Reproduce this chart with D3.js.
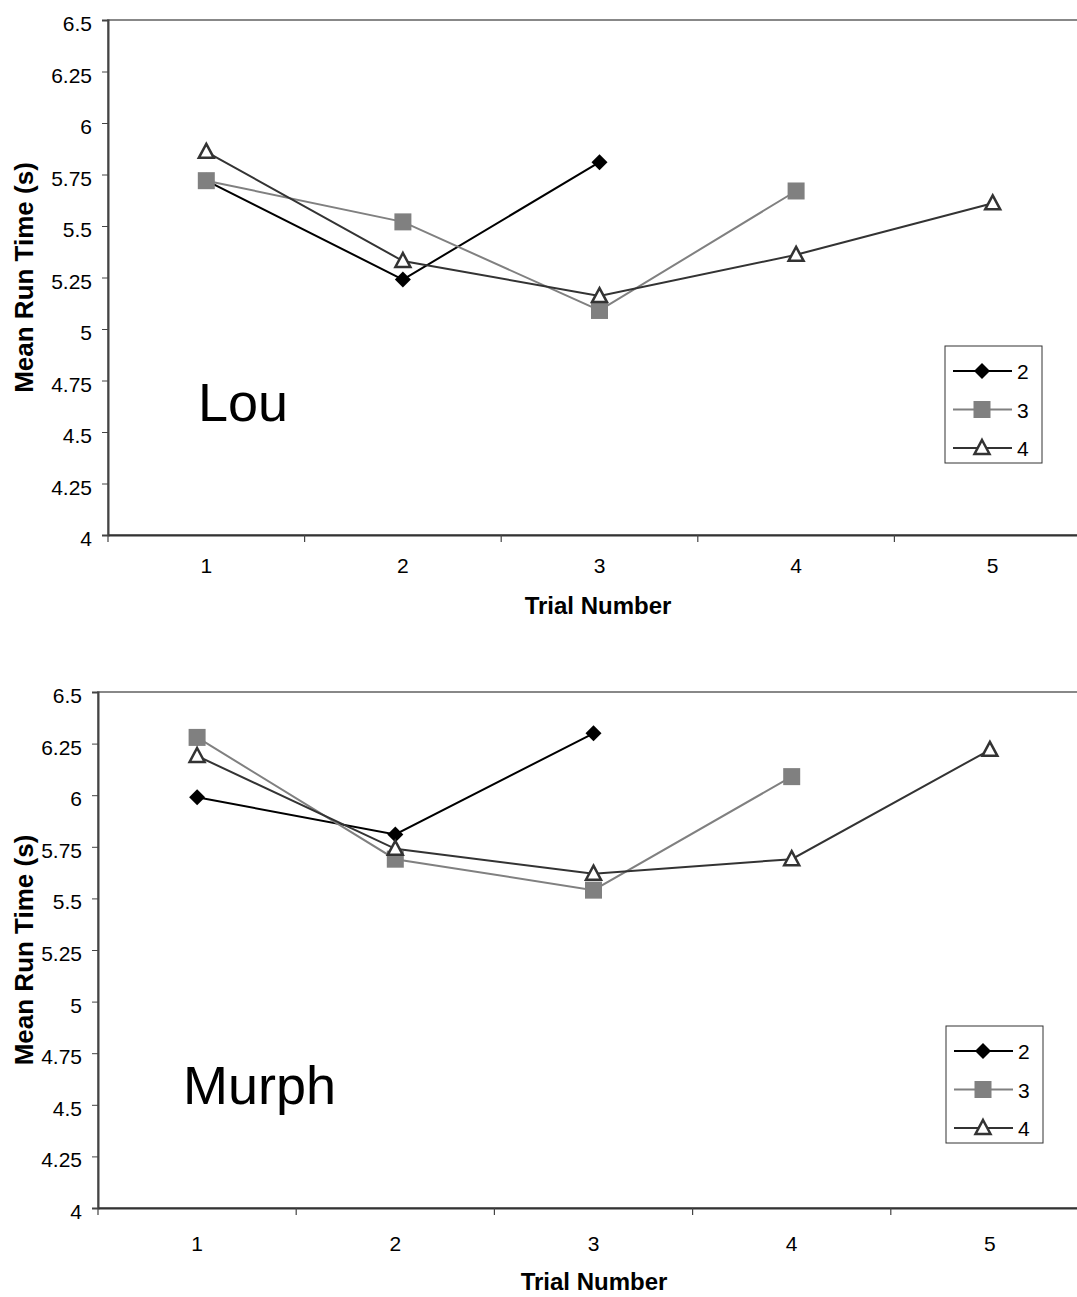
<!DOCTYPE html>
<html lang="en">
<head>
<meta charset="utf-8">
<title>Mean Run Time - Lou and Murph</title>
<script src="https://cdn.jsdelivr.net/npm/d3@7"></script>
<style>
  body { margin: 0; background: #fff; }
  svg { display: block; font-family: "Liberation Sans", Arial, sans-serif; }
  .axis-title { font-size: 24px; font-weight: bold; }
  .axis-title.ytitle { font-size: 26px; }
</style>
</head>
<body>
<svg id="chart" width="1077" height="1297"></svg>
<script>
// data
var trials = ["1", "2", "3", "4", "5"];
var seriesNames = ["2", "3", "4"];
var yTicks = [4, 4.25, 4.5, 4.75, 5, 5.25, 5.5, 5.75, 6, 6.25, 6.5];

// Lou
var lou2 = [5.72, 5.24, 5.81];
var lou3 = [5.72, 5.52, 5.09, 5.67];
var lou4 = [5.86, 5.33, 5.16, 5.36, 5.61];

// Murph
var murph2 = [5.99, 5.81, 6.30];
var murph3 = [6.28, 5.69, 5.54, 6.09];
var murph4 = [6.19, 5.74, 5.62, 5.69, 6.22];

var styles = {
  "2": { stroke: "#000", marker: "diamond" },
  "3": { stroke: "#808080", marker: "square" },
  "4": { stroke: "#333", marker: "triangle" }
};

var svg = d3.select("#chart");

function marker(sel, type) {
  if (type === "diamond") {
    sel.append("path").attr("d", "M0,-8L8,0L0,8L-8,0Z").attr("fill", "#000");
  } else if (type === "square") {
    sel.append("rect").attr("x", -8.5).attr("y", -8.5).attr("width", 17).attr("height", 17).attr("fill", "#808080");
  } else {
    sel.append("path").attr("d", "M0,-8L7.5,6L-7.5,6Z")
      .attr("fill", "#fff").attr("stroke", "#333").attr("stroke-width", 2.5);
  }
}

function drawChart(c) {
  var g = svg.append("g");

  var x = d3.scaleBand().domain(trials).range([c.left, c.right]);
  var y = d3.scaleLinear().domain([4, 6.5]).range([c.bottom, c.top]);

  // plot border (top + right are grey)
  g.append("rect")
    .attr("x", c.left).attr("y", c.top)
    .attr("width", c.right - c.left).attr("height", c.bottom - c.top)
    .attr("fill", "none").attr("stroke", "#888").attr("stroke-width", 2);

  // y axis
  var yAxis = g.append("g")
    .attr("transform", "translate(" + c.left + ",0)")
    .call(d3.axisLeft(y).tickValues(yTicks).tickSize(6).tickPadding(10)
      .tickFormat(function (d) { return String(d); }));
  yAxis.select(".domain").attr("stroke", "#444").attr("stroke-width", 2);
  yAxis.selectAll(".tick line").attr("stroke", "#444");
  yAxis.selectAll("text")
    .attr("font-family", null).style("font-size", "21px").attr("fill", "#000")
    .attr("dy", "0.5em");

  // x axis: labels at band centres, ticks at band edges
  var xAxis = g.append("g")
    .attr("transform", "translate(0," + c.bottom + ")")
    .call(d3.axisBottom(x).tickSize(0).tickPadding(c.xPad));
  xAxis.select(".domain").attr("stroke", "#333").attr("stroke-width", 2);
  xAxis.selectAll("text")
    .attr("font-family", null).style("font-size", "21px").attr("fill", "#000");

  var edges = trials.map(function (t) { return x(t); });
  g.selectAll(".xedge").data(edges).enter().append("line")
    .attr("class", "xedge")
    .attr("x1", function (d) { return d; }).attr("x2", function (d) { return d; })
    .attr("y1", c.bottom).attr("y2", c.bottom + 7)
    .attr("stroke", "#444").attr("stroke-width", 1.2);

  // axis titles
  g.append("text").attr("class", "axis-title")
    .attr("x", c.titleX)
    .attr("y", c.titleY)
    .attr("text-anchor", "middle")
    .text("Trial Number");

  g.append("text").attr("class", "axis-title ytitle")
    .attr("transform", "translate(33," + (c.top + c.bottom) / 2 + ") rotate(-90)")
    .attr("text-anchor", "middle")
    .text("Mean Run Time (s)");

  // series
  var line = d3.line()
    .x(function (d, i) { return x(trials[i]) + x.bandwidth() / 2; })
    .y(function (d) { return y(d); });

  c.series.forEach(function (vals, si) {
    var st = styles[seriesNames[si]];
    g.append("path").datum(vals)
      .attr("d", line)
      .attr("fill", "none")
      .attr("stroke", st.stroke)
      .attr("stroke-width", 2);
    g.selectAll(".m" + si).data(vals).enter().append("g")
      .attr("class", "m" + si)
      .attr("transform", function (d, i) {
        return "translate(" + (x(trials[i]) + x.bandwidth() / 2) + "," + y(d) + ")";
      })
      .each(function () { marker(d3.select(this), st.marker); });
  });

  // name label
  g.append("text")
    .attr("x", c.nameX).attr("y", c.nameY)
    .style("font-size", "54px")
    .text(c.name);

  // legend
  var lg = g.append("g").attr("transform", "translate(" + c.legX + "," + c.legY + ")");
  lg.append("rect").attr("x", 0).attr("y", 0).attr("width", 97).attr("height", 117)
    .attr("fill", "#fff").attr("stroke", "#333").attr("stroke-width", 1);
  seriesNames.forEach(function (name, i) {
    var st = styles[name];
    var row = lg.append("g").attr("transform", "translate(0," + (25 + i * 38.5) + ")");
    row.append("line").attr("x1", 8).attr("x2", 67).attr("y1", 0).attr("y2", 0)
      .attr("stroke", st.stroke).attr("stroke-width", 2);
    marker(row.append("g").attr("transform", "translate(37,0)"), st.marker);
    row.append("text").attr("x", 72).attr("y", 8).style("font-size", "21px").text(name);
  });
}

drawChart({
  left: 108, right: 1091, top: 20, bottom: 535,
  series: [lou2, lou3, lou4], name: "Lou", nameX: 198, nameY: 421,
  xPad: 23, titleX: 598, titleY: 614, legX: 945, legY: 346
});

drawChart({
  left: 98, right: 1089, top: 692, bottom: 1208,
  series: [murph2, murph3, murph4], name: "Murph", nameX: 183, nameY: 1104,
  xPad: 28, titleX: 594, titleY: 1290, legX: 946, legY: 1026
});
</script>
</body>
</html>
